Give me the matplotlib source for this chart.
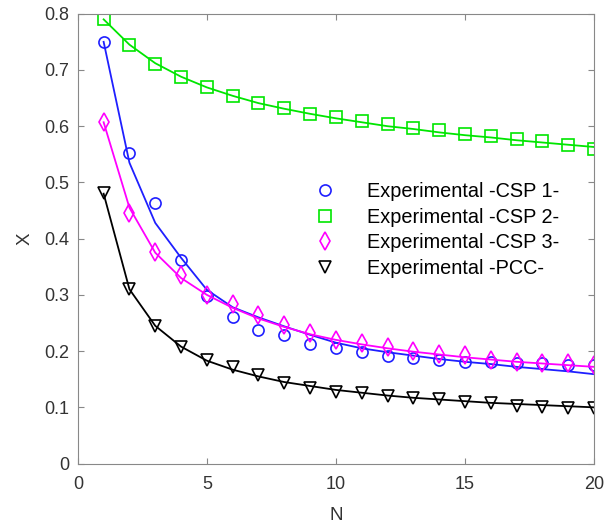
import matplotlib
matplotlib.use("Agg")
import matplotlib.pyplot as plt

plt.rcParams["font.family"] = ["Liberation Sans", "DejaVu Sans"]

N = list(range(1, 21))

# experimental points
csp1_exp = [0.750, 0.553, 0.463, 0.362, 0.298, 0.261, 0.238, 0.228, 0.213, 0.206,
            0.199, 0.192, 0.188, 0.185, 0.180, 0.180, 0.179, 0.178, 0.176, 0.175]
csp2_exp = [0.790, 0.745, 0.710, 0.688, 0.670, 0.654, 0.642, 0.633, 0.622, 0.617,
            0.610, 0.604, 0.597, 0.594, 0.587, 0.583, 0.578, 0.574, 0.567, 0.560]
csp3_exp = [0.607, 0.446, 0.377, 0.336, 0.300, 0.283, 0.265, 0.247, 0.233, 0.220,
            0.215, 0.208, 0.201, 0.194, 0.193, 0.185, 0.181, 0.179, 0.179, 0.176]
pcc_exp = [0.481, 0.310, 0.244, 0.208, 0.185, 0.172, 0.157, 0.143, 0.135, 0.128,
           0.126, 0.120, 0.117, 0.114, 0.110, 0.108, 0.102, 0.100, 0.099, 0.099]

# fitted curves
csp1_fit = [0.750, 0.535, 0.428, 0.366, 0.309, 0.278, 0.260, 0.244, 0.229, 0.215,
            0.205, 0.198, 0.192, 0.186, 0.181, 0.177, 0.172, 0.168, 0.164, 0.159]
csp2_fit = [0.790, 0.745, 0.712, 0.688, 0.669, 0.654, 0.641, 0.631, 0.622, 0.614,
            0.607, 0.600, 0.595, 0.589, 0.584, 0.580, 0.575, 0.571, 0.567, 0.563]
csp3_fit = [0.607, 0.455, 0.375, 0.330, 0.300, 0.277, 0.258, 0.243, 0.230, 0.220,
            0.212, 0.205, 0.199, 0.194, 0.189, 0.185, 0.181, 0.178, 0.175, 0.172]
pcc_fit = [0.480, 0.310, 0.245, 0.208, 0.183, 0.167, 0.155, 0.145, 0.138, 0.131,
           0.126, 0.121, 0.117, 0.114, 0.111, 0.108, 0.106, 0.104, 0.102, 0.100]

labels = ["Experimental -CSP 1-", "Experimental -CSP 2-",
          "Experimental -CSP 3-", "Experimental -PCC-"]
colors = ["#1f1fff", "#00e600", "#ff00ff", "#000000"]
markers = ["o", "s", "d", "v"]

fig = plt.figure(figsize=(6.08, 5.28), dpi=100)
ax = fig.add_axes([0.128, 0.122, 0.849, 0.852])

series = [(csp1_exp, csp1_fit), (csp2_exp, csp2_fit),
          (csp3_exp, csp3_fit), (pcc_exp, pcc_fit)]
for (exp, fit), lab, c, m in zip(series, labels, colors, markers):
    ax.plot(N, exp, linestyle="none", marker=m, markersize=8 if m != "d" else 9,
            markerfacecolor="none", markeredgecolor=c, markeredgewidth=1.2, label=lab)
    ax.plot(N, fit, color=c, linewidth=1.3)

ax.set_xlim(0, 20)
ax.set_ylim(0, 0.8)
ax.set_xticks([0, 5, 10, 15, 20])
ax.set_yticks([0, 0.1, 0.2, 0.3, 0.4, 0.5, 0.6, 0.7, 0.8])
ax.set_yticklabels(["0", "0.1", "0.2", "0.3", "0.4", "0.5", "0.6", "0.7", "0.8"])
ax.tick_params(direction="in", top=True, right=True, labelsize=13,
               colors="#888888", labelcolor="#333333", length=4)
ax.tick_params(axis="x", pad=9)
ax.tick_params(axis="y", pad=6)
for sp in ax.spines.values():
    sp.set_color("#888888")
ax.set_xlabel("N", fontsize=13.5, color="#333333", labelpad=10)
ax.set_ylabel("X", fontsize=13.5, color="#333333", labelpad=8)

ax.legend(loc="upper left", bbox_to_anchor=(0.405, 0.665), frameon=False,
          fontsize=14.3, handletextpad=1.15, labelspacing=0.33)

fig.savefig("out.png", dpi=100)
